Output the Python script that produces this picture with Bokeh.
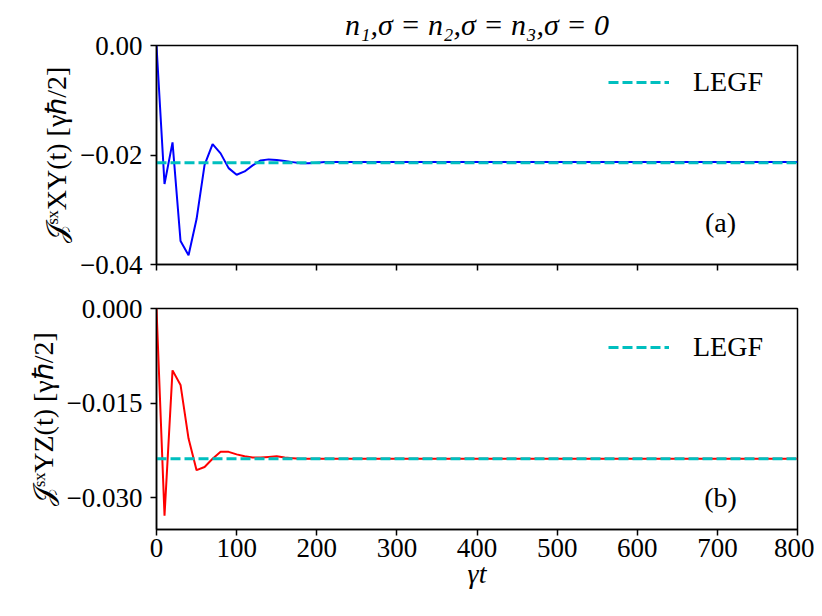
from bokeh.plotting import figure
from bokeh.layouts import column
from bokeh.models import (FixedTicker, CustomJSTickFormatter, Legend, LegendItem,
                          Label, Range1d)
from bokeh.embed import file_html
from bokeh.resources import INLINE

# ---- data ----
t_xy = [0, 10, 20, 30, 40, 50, 60, 70, 80, 90, 100, 110, 120, 130, 140, 150,
        160, 170, 180, 190, 200, 210, 220, 240, 260, 300, 400, 500, 600, 700, 800]
j_xy = [0.0, -0.0253, -0.0177, -0.0357, -0.0383, -0.0317, -0.0218, -0.0180,
        -0.0197, -0.0224, -0.0236, -0.0230, -0.0219, -0.0210, -0.0208, -0.0209,
        -0.0211, -0.0213, -0.0215, -0.0215, -0.0214, -0.0213, -0.0213, -0.0213,
        -0.0213, -0.0213, -0.0213, -0.0213, -0.0213, -0.0213, -0.0213]
legf_xy = -0.0214

t_yz = [0, 10, 20, 30, 40, 50, 60, 70, 80, 90, 100, 110, 120, 130, 140, 150,
        160, 170, 180, 200, 240, 300, 400, 500, 600, 700, 800]
j_yz = [0.0, -0.0328, -0.0098, -0.0121, -0.0206, -0.0256, -0.0251, -0.0238,
        -0.0227, -0.0227, -0.0231, -0.0234, -0.0236, -0.0236, -0.0235, -0.0234,
        -0.0236, -0.0237, -0.0238, -0.0238, -0.0238, -0.0238, -0.0238, -0.0238,
        -0.0238, -0.0238, -0.0238]
legf_yz = -0.0238

x_ticks = [0, 100, 200, 300, 400, 500, 600, 700, 800]
y_ticks_top = [-0.04, -0.02, 0.0]
y_ticks_bot = [-0.030, -0.015, 0.0]

FONT = "Liberation Serif"
CYAN = "#00BFBF"


def fmt(digits):
    return CustomJSTickFormatter(code=f"""
        let s = Math.abs(tick) < 1e-12 ? (0).toFixed({digits}) : tick.toFixed({digits});
        return s.replace('-', '\\u2212');
    """)


def style(p, yticks, ydigits, show_xlabels):
    p.grid.visible = False
    p.outline_line_color = "black"
    p.outline_line_width = 1.5
    p.background_fill_color = "white"
    p.border_fill_color = "white"
    for ax in (p.xaxis[0], p.yaxis[0]):
        ax.axis_line_width = 1.5
        ax.major_tick_line_width = 1.5
        ax.major_tick_out = 6
        ax.major_tick_in = 0
        ax.minor_tick_line_color = None
        ax.major_label_text_font = FONT
        ax.major_label_text_font_size = "27px"
        ax.major_label_text_color = "black"
        ax.axis_label_text_font = FONT
        ax.axis_label_text_font_size = "28px"
        ax.axis_label_text_font_style = "normal"
        ax.axis_label_text_color = "black"
    p.xaxis[0].ticker = FixedTicker(ticks=x_ticks)
    p.yaxis[0].ticker = FixedTicker(ticks=yticks)
    p.yaxis[0].formatter = fmt(ydigits)
    p.yaxis[0].major_label_standoff = 8
    p.xaxis[0].major_label_standoff = 3
    if not show_xlabels:
        p.xaxis[0].major_label_text_font_size = "0px"
        p.xaxis[0].major_label_text_alpha = 0


def add_legend(p, r):
    leg = Legend(items=[LegendItem(label="LEGF", renderers=[r])],
                 location=(452, 165), border_line_color=None,
                 background_fill_alpha=0, padding=0, margin=0, spacing=0,
                 glyph_width=61, glyph_height=34, label_height=34,
                 label_standoff=24, label_text_font=FONT,
                 label_text_font_size="28px", label_text_color="black")
    p.add_layout(leg)


top = figure(width=814, height=286, x_range=Range1d(0, 800),
             y_range=Range1d(-0.04, 0.0), output_backend="svg",
             toolbar_location=None, min_border_left=156, min_border_right=17,
             min_border_top=43, min_border_bottom=22)
top.title.text = "n\u2081,\u03c3 = n\u2082,\u03c3 = n\u2083,\u03c3 = 0"
top.title.align = "center"
top.title.text_font = FONT
top.title.text_font_size = "30px"
top.title.text_font_style = "italic"
top.title.text_color = "black"
top.title.standoff = 10
top.title.offset = 0
style(top, y_ticks_top, 2, False)
top.yaxis[0].axis_label = "\U0001D4A5\u02e2\u02e3XY(t) [\u03b3\u210f/2]"

top.line(t_xy, j_xy, line_color="blue", line_width=2)
r1 = top.line([0, 800], [legf_xy, legf_xy], line_color=CYAN, line_width=3,
              line_dash="10 4")
add_legend(top, r1)
top.add_layout(Label(x=704, y=-0.0323, text="(a)", text_align="center",
                     text_baseline="middle", text_font=FONT,
                     text_font_size="28px", text_color="black"))

bot = figure(width=814, height=313, x_range=top.x_range,
             y_range=Range1d(-0.035, 0.0), output_backend="svg",
             toolbar_location=None, min_border_left=156, min_border_right=17,
             min_border_top=22, min_border_bottom=70)
style(bot, y_ticks_bot, 3, True)
bot.yaxis[0].axis_label = "\U0001D4A5\u02e2\u02e3YZ(t) [\u03b3\u210f/2]"
bot.xaxis[0].axis_label = "\u03b3t"
bot.xaxis[0].axis_label_text_font_style = "italic"
bot.xaxis[0].axis_label_standoff = -2

bot.line(t_yz, j_yz, line_color="red", line_width=2)
r2 = bot.line([0, 800], [legf_yz, legf_yz], line_color=CYAN, line_width=3,
              line_dash="10 4")
add_legend(bot, r2)
bot.add_layout(Label(x=704, y=-0.0300, text="(b)", text_align="center",
                     text_baseline="middle", text_font=FONT,
                     text_font_size="28px", text_color="black"))

layout = column(top, bot, spacing=0)
open("out.html", "w").write(file_html(layout, INLINE))
